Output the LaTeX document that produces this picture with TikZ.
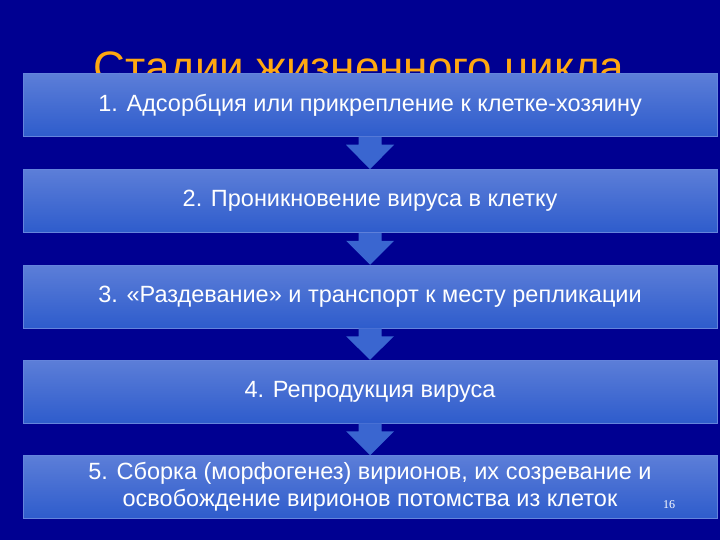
\documentclass[tikz,border=0pt]{standalone}
\usepackage{fontspec}
\setmainfont{Liberation Sans}
\newfontfamily\slidenumfont{Liberation Serif}
\usetikzlibrary{calc}

\definecolor{slidebg}{RGB}{0,0,145}
\definecolor{boxtop}{RGB}{92,126,216}
\definecolor{boxbot}{RGB}{46,92,204}
\definecolor{boxedge}{RGB}{100,132,220}
\definecolor{flowblue}{RGB}{58,102,208}
\definecolor{titleorange}{RGB}{255,168,16}

\tikzset{
  stagebox/.style={rectangle, minimum width=694pt, minimum height=63pt,
    top color=boxtop, bottom color=boxbot, draw=boxedge, line width=0.5pt,
    text=white, font=\fontsize{23.5}{27}\selectfont, align=center, inner sep=0pt},
  flow/.style={fill=flowblue}
}

\begin{document}
\begin{tikzpicture}[x=1pt,y=-1pt]
  % Slide background
  \fill[slidebg] (0,0) rectangle (720,540);
  \useasboundingbox (0,0) rectangle (720,540);
  % Title (partly hidden behind the first box)
  \node[text=titleorange, font=\fontsize{44}{52}\selectfont, anchor=base] (title) at (359,83) {Стадии жизненного цикла};
  % Stages
  \foreach \n/\y/\txt in {1/105/{1. Адсорбция или прикрепление к клетке-хозяину},
                          2/201/{2. Проникновение вируса в клетку},
                          3/296.5/{3. «Раздевание» и транспорт к месту репликации},
                          4/391.5/{4. Репродукция вируса},
                          5/487/{5. Сборка (морфогенез) вирионов, их созревание и\\освобождение вирионов потомства из клеток}} {
    \node[stagebox] (s\n) at (370,\y) {\txt};
  }
  % Arrows between stages
  \foreach \a/\b in {1/2,2/3,3/4,4/5} {
    \fill[flow] ($(s\a.south)+(-11.5,0)$) -- ($(s\a.south)+(11.5,0)$) -- ($(s\a.south)+(11.5,8)$)
      -- ($(s\a.south)+(24,8)$) -- (s\b.north) -- ($(s\a.south)+(-24,8)$) -- ($(s\a.south)+(-11.5,8)$) -- cycle;
  }
  % Slide number
  \node[text=white, font=\slidenumfont\fontsize{12}{14}\selectfont] (num) at (669,505) {16};
\end{tikzpicture}
\end{document}
